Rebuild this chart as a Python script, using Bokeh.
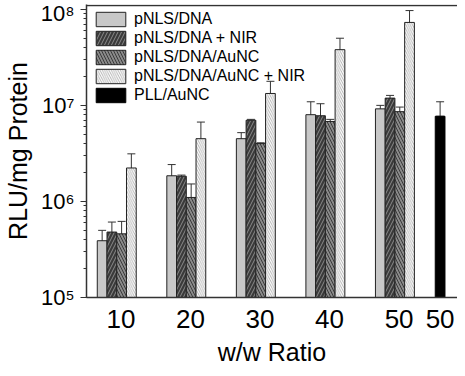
from bokeh.plotting import figure
from bokeh.models import (Range1d, FixedTicker, Whisker, TeeHead, ColumnDataSource,
                          Legend, LegendItem, Span, LogTicker)
from bokeh.embed import file_html
from bokeh.resources import INLINE

# ---- data ----
groups = [1, 2, 3, 4, 5]
group_labels = ["10", "20", "30", "40", "50"]
pll_pos = 5.65
pll_label = "50"

series_names = ["pNLS/DNA", "pNLS/DNA + NIR", "pNLS/DNA/AuNC", "pNLS/DNA/AuNC + NIR"]
pnls_dna = [3.9e5, 1.85e6, 4.5e6, 8.0e6, 9.2e6]
pnls_dna_err = [1.1e5, 0.57e6, 0.7e6, 2.9e6, 0.8e6]
pnls_dna_nir = [4.8e5, 1.83e6, 7.0e6, 7.8e6, 1.19e7]
pnls_dna_nir_err = [1.3e5, 0.05e6, 0.15e6, 2.6e6, 0.8e6]
pnls_dna_aunc = [4.6e5, 1.1e6, 4.0e6, 6.8e6, 8.6e6]
pnls_dna_aunc_err = [1.6e5, 0.42e6, 0.08e6, 0.35e6, 1.0e6]
pnls_dna_aunc_nir = [2.23e6, 4.5e6, 1.33e7, 3.8e7, 7.3e7]
pnls_dna_aunc_nir_err = [0.9e6, 2.2e6, 0.45e7, 1.2e7, 2.4e7]
pll_aunc = [7.7e6]
pll_aunc_err = [3.2e6]

y_ticks = [1e5, 1e6, 1e7, 1e8]
y_tick_labels = ["10\u2075", "10\u2076", "10\u2077", "10\u2078"]

FONT = "Liberation Sans"

p = figure(width=457, height=368, output_backend="svg", toolbar_location=None,
           y_axis_type="log", x_range=Range1d(0.565, 5.9),
           y_range=Range1d(1e5, 10 ** 8.05),
           min_border_left=77, min_border_right=0, min_border_top=4, min_border_bottom=57)
p.outline_line_color = None
p.grid.visible = False
p.background_fill_color = "white"
p.border_fill_color = "white"

bar_w = 0.14
offsets = [-1.5 * bar_w, -0.5 * bar_w, 0.5 * bar_w, 1.5 * bar_w]
styles = [
    dict(fill_color="#c8c8c8"),
    dict(fill_color="#3a3a3a", hatch_pattern="/", hatch_color="#8a8a8a", hatch_scale=7, hatch_weight=1),
    dict(fill_color="#8a8a8a", hatch_pattern="\\", hatch_color="#3a3a3a", hatch_scale=6, hatch_weight=1),
    dict(fill_color="white", hatch_pattern="\\", hatch_color="#a0a0a0", hatch_scale=4.5, hatch_weight=0.8),
]
vals = [pnls_dna, pnls_dna_nir, pnls_dna_aunc, pnls_dna_aunc_nir]
errs = [pnls_dna_err, pnls_dna_nir_err, pnls_dna_aunc_err, pnls_dna_aunc_nir_err]

items = []
for name, v, e, off, st in zip(series_names, vals, errs, offsets, styles):
    xs = [g + off for g in groups]
    src = ColumnDataSource(dict(x=xs, top=v, upper=[a + b for a, b in zip(v, e)],
                                lower=[a - b for a, b in zip(v, e)]))
    r = p.vbar(x="x", top="top", bottom=1e5, width=bar_w, source=src,
               line_color="#222222", line_width=1, **st)
    items.append(LegendItem(label=name, renderers=[r]))
    p.add_layout(Whisker(base="x", upper="upper", lower="lower", source=src,
                         line_color="#333333", line_width=1,
                         upper_head=TeeHead(size=8, line_color="#333333", line_width=1),
                         lower_head=TeeHead(size=8, line_color="#333333", line_width=1)))

src5 = ColumnDataSource(dict(x=[pll_pos], top=pll_aunc,
                             upper=[a + b for a, b in zip(pll_aunc, pll_aunc_err)]))
r5 = p.vbar(x="x", top="top", bottom=1e5, width=bar_w, source=src5,
            fill_color="black", line_color="black")
items.append(LegendItem(label="PLL/AuNC", renderers=[r5]))
p.add_layout(Whisker(base="x", upper="upper", lower="top", source=src5,
                     line_color="#333333", line_width=1,
                     upper_head=TeeHead(size=8, line_color="#333333", line_width=1),
                     lower_head=TeeHead(size=8, line_color="#333333", line_width=1)))

# top border line
p.add_layout(Span(location=10 ** 8.04, dimension="width", line_color="#333333", line_width=1.5))

legend = Legend(items=items, location="top_left", orientation="vertical",
                glyph_width=37, glyph_height=18, label_height=18, spacing=1,
                padding=0, margin=6, label_standoff=5,
                label_text_font=FONT, label_text_font_size="16px", label_text_color="black",
                border_line_color=None, background_fill_alpha=0)
p.add_layout(legend, "center")

# x axis
tick_pos = [g + 0.06 for g in groups] + [pll_pos]
p.xaxis.ticker = FixedTicker(ticks=tick_pos)
p.xaxis.major_label_overrides = {t: l for t, l in zip(tick_pos, group_labels + [pll_label])}
p.xaxis.major_tick_line_color = None
p.xaxis.minor_tick_line_color = None
p.xaxis.axis_line_color = "#333333"
p.xaxis.axis_line_width = 1.5
p.xaxis.major_label_text_font = FONT
p.xaxis.major_label_text_font_size = "26px"
p.xaxis.major_label_text_color = "black"
p.xaxis.major_label_standoff = 6
p.xaxis.axis_label = "w/w Ratio"
p.xaxis.axis_label_text_font = FONT
p.xaxis.axis_label_text_font_size = "25px"
p.xaxis.axis_label_text_font_style = "normal"
p.xaxis.axis_label_text_color = "black"
p.xaxis.axis_label_standoff = 7

# y axis
p.yaxis.ticker = LogTicker(desired_num_ticks=4, num_minor_ticks=10)
p.yaxis.major_label_overrides = {t: l for t, l in zip(y_ticks, y_tick_labels)}
p.yaxis.axis_line_color = "#333333"
p.yaxis.axis_line_width = 1.5
p.yaxis.major_tick_line_color = "#333333"
p.yaxis.major_tick_out = 6
p.yaxis.major_tick_in = 0
p.yaxis.minor_tick_line_color = "#333333"
p.yaxis.minor_tick_out = 3
p.yaxis.minor_tick_in = 0
p.yaxis.major_label_text_font = FONT
p.yaxis.major_label_text_font_size = "22px"
p.yaxis.major_label_text_color = "black"
p.yaxis.major_label_standoff = 6
p.yaxis.axis_label = "RLU/mg Protein"
p.yaxis.axis_label_text_font = FONT
p.yaxis.axis_label_text_font_size = "25px"
p.yaxis.axis_label_text_font_style = "normal"
p.yaxis.axis_label_text_color = "black"
p.yaxis.axis_label_standoff = 6

open("out.html", "w").write(file_html(p, INLINE))
